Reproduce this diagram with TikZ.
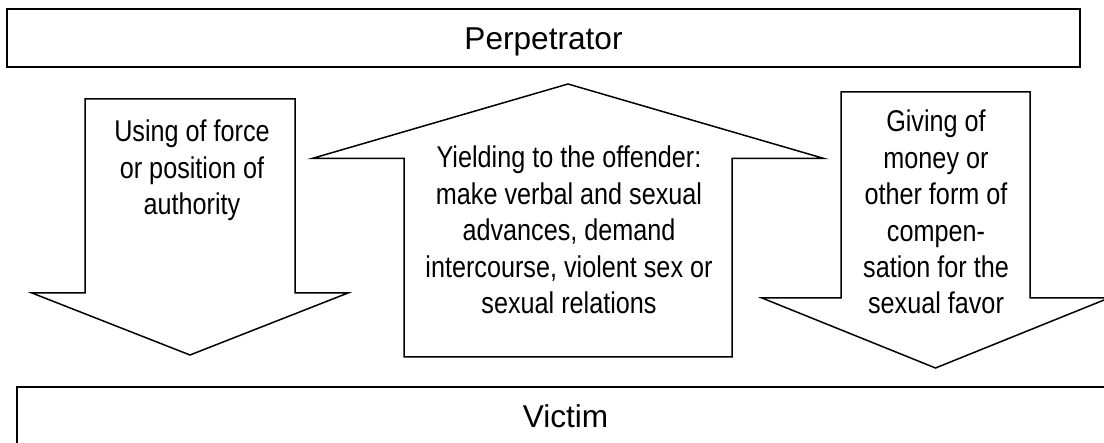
\documentclass[tikz,border=0pt]{standalone}
\usepackage{fontspec}
\setmainfont{Liberation Sans}
\newfontfamily\narrowfont[FakeStretch=0.84]{Liberation Sans}
\newcommand\armlines[1]{\begin{tabular}[t]{@{}c@{}}#1\end{tabular}}
\begin{document}
\begin{tikzpicture}[x=1pt,y=-1pt,
  box/.style={draw, line width=1.5pt, inner sep=0pt, font=\fontsize{31.6}{38}\selectfont, text height=22.6pt, text depth=0pt},
  arrowshape/.style={draw, line width=1.5pt, line join=miter, fill=white},
  armtext/.style={anchor=base, inner sep=0pt, font=\narrowfont\fontsize{30}{36.4}\selectfont}]
\useasboundingbox (0,0) rectangle (1104,443);
\clip (0,0) rectangle (1104,443);
\node[box, minimum width=1073pt, minimum height=58pt] (perp) at (543.5,38) {Perpetrator};
\node[box, minimum width=1097pt, minimum height=58pt] (victim) at (565.5,416) {Victim};
% left arrow (down)
\draw[arrowshape] (85,99) -- (295,99) -- (295,293) -- (348,293) -- (190,355) -- (32,293) -- (85,293) -- cycle;
% middle arrow (up)
\draw[arrowshape] (568,84) -- (824,158.5) -- (732,158.5) -- (732,357) -- (404,357) -- (404,158.5) -- (312,158.5) -- cycle;
% right arrow (down)
\draw[arrowshape] (841,92) -- (1030,92) -- (1030,298) -- (1109,298) -- (935.5,368) -- (762,298) -- (841,298) -- cycle;
\node[armtext] (lefttext) at (192,142) {\armlines{Using of force\\or position of\\authority}};
\node[armtext] (midtext) at (569,168) {\armlines{Yielding to the offender:\\make verbal and sexual\\advances, demand\\intercourse, violent sex or\\sexual relations}};
\node[armtext] (righttext) at (936,132) {\armlines{Giving of\\money or\\other form of\\compen-\\sation for the\\sexual favor}};
\end{tikzpicture}
\end{document}
